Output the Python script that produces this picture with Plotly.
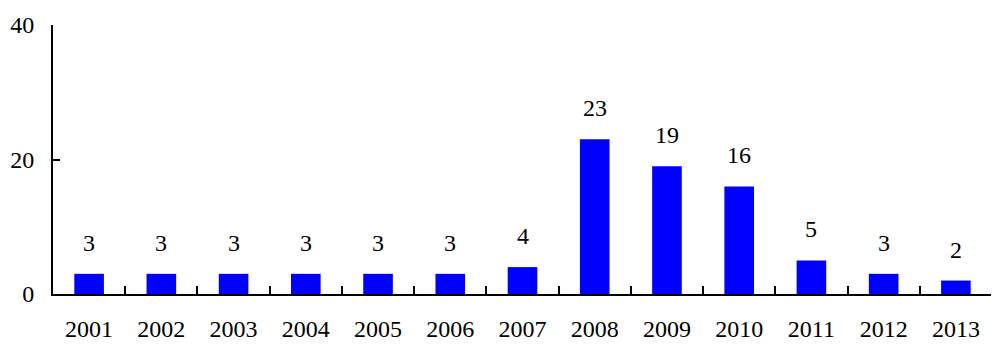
import plotly.graph_objects as go

years = ["2001", "2002", "2003", "2004", "2005", "2006", "2007",
         "2008", "2009", "2010", "2011", "2012", "2013"]
values = [3, 3, 3, 3, 3, 3, 4, 23, 19, 16, 5, 3, 2]
y_ticks = [0, 20, 40]

font = dict(family="Liberation Serif, Times New Roman, serif", size=24, color="black")

fig = go.Figure()
fig.add_trace(go.Bar(x=years, y=values, marker=dict(color="#0000FF", line=dict(width=0)),
                     width=0.41))

for i, v in enumerate(values):
    fig.add_annotation(x=i, y=v, xref="x", yref="y", text=str(v), showarrow=False,
                       yanchor="bottom", yshift=16, font=font)

fig.update_layout(
    width=985, height=344,
    margin=dict(l=45, r=1, t=17, b=58),
    paper_bgcolor="white", plot_bgcolor="white",
    showlegend=False, font=font,
)
fig.update_xaxes(
    type="category", categoryorder="array", categoryarray=years,
    range=[-0.5, len(years) - 0.5], autorange=False, automargin=False,
    showline=True, linecolor="black", linewidth=2, tickangle=0,
    ticks="inside", tickson="boundaries", ticklen=8, tickwidth=2, tickcolor="black",
    showgrid=False, ticklabelstandoff=12, tickfont=font,
)
fig.update_yaxes(
    range=[0, 40], tickvals=y_ticks, showline=True, linecolor="black", linewidth=2,
    ticks="inside", ticklen=7, tickwidth=2, tickcolor="black", automargin=False,
    showgrid=False, zeroline=False, ticklabelstandoff=12, tickfont=font,
)

fig.write_html("out.html")
